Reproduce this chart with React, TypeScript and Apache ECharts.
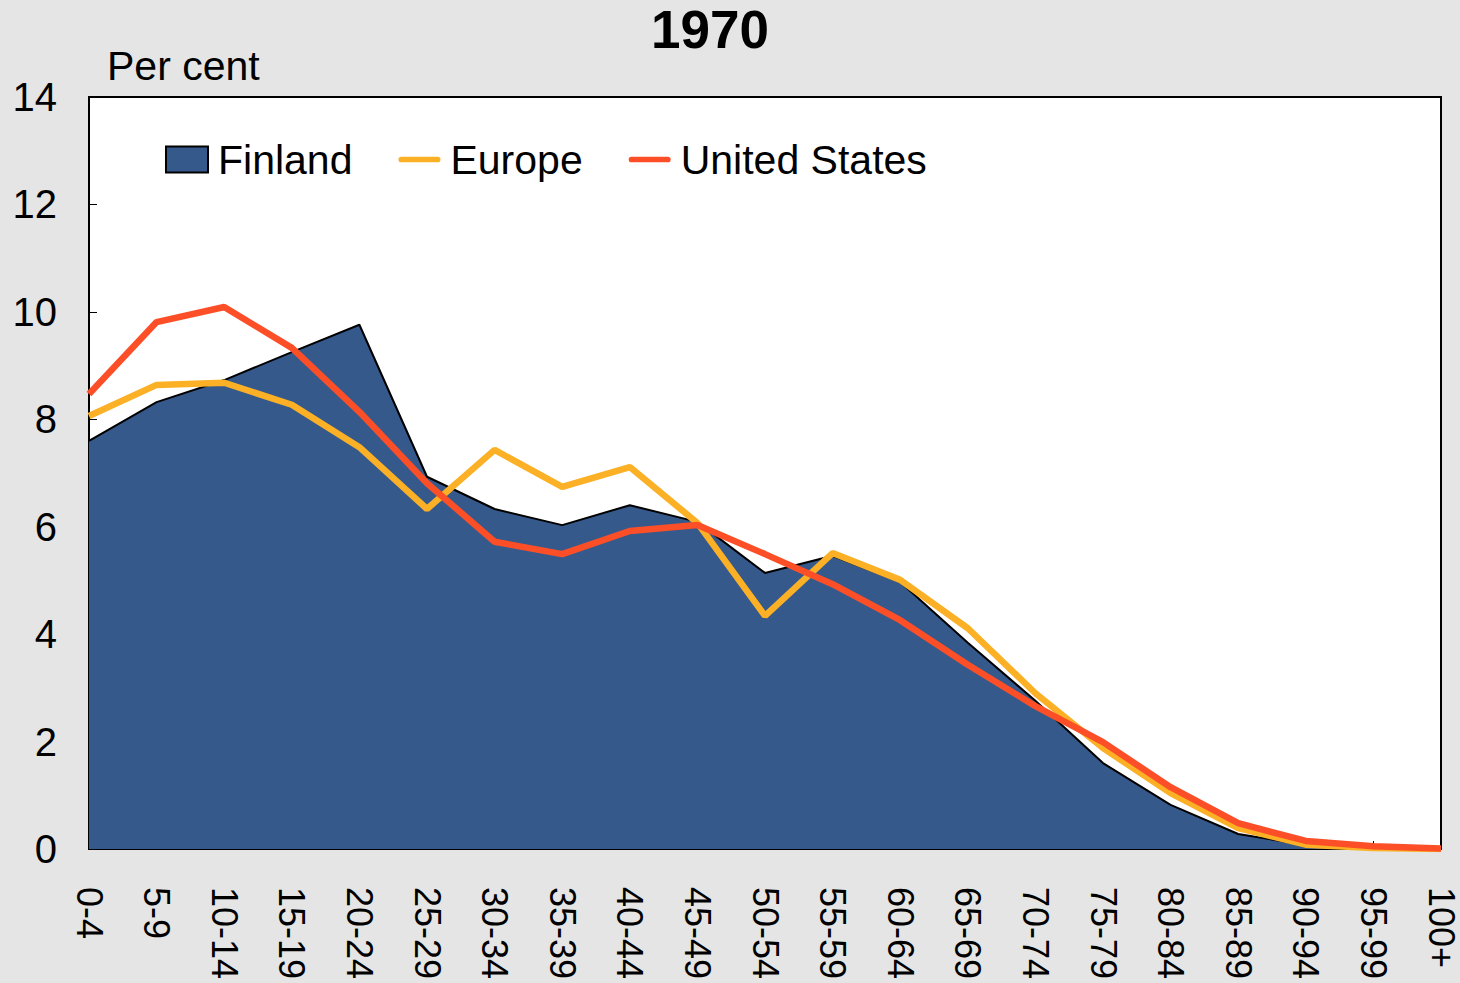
import React, { useEffect, useRef } from "react";
import * as echarts from "echarts";

const categories = ["0-4","5-9","10-14","15-19","20-24","25-29","30-34","35-39","40-44","45-49","50-54","55-59","60-64","65-69","70-74","75-79","80-84","85-89","90-94","95-99","100+"];
const finland = [7.6, 8.32, 8.73, 9.25, 9.76, 6.93, 6.33, 6.03, 6.4, 6.09, 5.14, 5.46, 4.97, 3.84, 2.76, 1.6, 0.82, 0.28, 0.07, 0.01, 0.0];
const europe = [8.06, 8.64, 8.68, 8.27, 7.48, 6.33, 7.43, 6.74, 7.11, 6.07, 4.34, 5.51, 5.01, 4.11, 2.9, 1.88, 1.04, 0.39, 0.08, 0.02, 0.0];
const unitedStates = [8.47, 9.81, 10.09, 9.33, 8.14, 6.81, 5.72, 5.49, 5.92, 6.03, 5.49, 4.93, 4.26, 3.43, 2.66, 1.99, 1.15, 0.48, 0.15, 0.05, 0.01];

const FONT = "Liberation Sans, Arial, sans-serif";
const LINE_ICON = "path://M3,0 L41,0 A3,3 0 0 1 41,6 L3,6 A3,3 0 0 1 3,0 Z";

export default function App() {
  const ref = useRef<HTMLDivElement>(null);
  useEffect(() => {
    if (!ref.current) return;
    const chart = echarts.init(ref.current, undefined, { renderer: "svg" });
    chart.setOption({
      animation: false,
      backgroundColor: "#e4e5e4",
      textStyle: { fontFamily: FONT },
      graphic: [
        { type: "text", x: 710, y: 29, style: { text: "1970", font: `bold 53px ${FONT}`, fill: "#000", textAlign: "center", textVerticalAlign: "middle" } },
        { type: "text", left: 107, top: 45, style: { text: "Per cent", font: `41px ${FONT}`, fill: "#000" } },
      ],
      grid: { left: 89, right: 19, top: 97, bottom: 134, show: true, backgroundColor: "#fff", borderColor: "#000", borderWidth: 2 },
      legend: {
        left: 160, top: 134, itemWidth: 42, itemHeight: 26, itemGap: 46,
        textStyle: { fontSize: 41, color: "#000", fontFamily: FONT, padding: [0, 0, 0, 5] },
        data: [
          { name: "Finland", icon: "rect", itemStyle: { color: "#36598c", borderColor: "#000", borderWidth: 2 } },
          { name: "Europe", icon: LINE_ICON, itemStyle: { color: "#fbb025" } },
          { name: "United States", icon: LINE_ICON, itemStyle: { color: "#fd4f27" } },
        ],
      },
      xAxis: {
        type: "category", data: categories, boundaryGap: false,
        axisLine: { lineStyle: { color: "#000", width: 2 } },
        axisTick: { inside: true, length: 8, lineStyle: { color: "#000" }, alignWithLabel: true },
        axisLabel: { rotate: -90, margin: 38, fontSize: 36, color: "#000", fontFamily: FONT, interval: 0 },
      },
      yAxis: {
        type: "value", min: 0, max: 14, interval: 2,
        axisLine: { show: true, lineStyle: { color: "#000", width: 2 } },
        axisTick: { show: true, inside: true, length: 8, lineStyle: { color: "#000" } },
        splitLine: { show: false },
        axisLabel: { margin: 32, fontSize: 40, color: "#000", fontFamily: FONT },
      },
      series: [
        {
          name: "Finland", type: "line", data: finland, symbol: "none",
          lineStyle: { color: "#000", width: 2 },
          itemStyle: { color: "#36598c" },
          areaStyle: { color: "#36598c", opacity: 1 },
        },
        {
          name: "Europe", type: "line", data: europe, symbol: "none",
          lineStyle: { color: "#fbb025", width: 6.5 },
          itemStyle: { color: "#fbb025" },
        },
        {
          name: "United States", type: "line", data: unitedStates, symbol: "none",
          lineStyle: { color: "#fd4f27", width: 6.5 },
          itemStyle: { color: "#fd4f27" },
        },
      ],
    });
    return () => chart.dispose();
  }, []);
  return <div ref={ref} style={{ width: 1460, height: 983, position: "absolute", left: 0, top: 0 }} />;
}
